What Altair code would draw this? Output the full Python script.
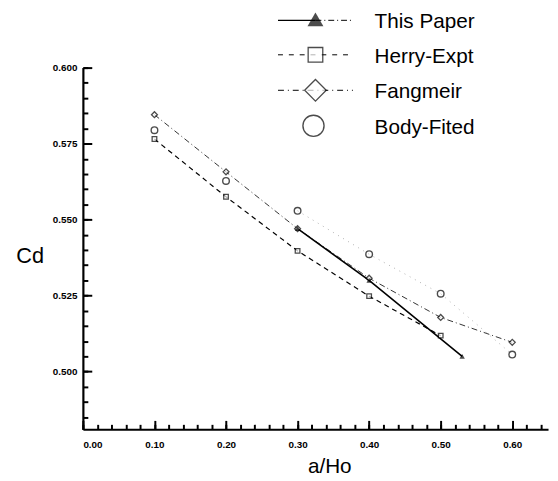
import altair as alt
import pandas as pd

# ---- data ----
series_names = ["This Paper", "Herry-Expt", "Fangmeir", "Body-Fited"]

this_x = [0.30, 0.40, 0.53]
this_y = [0.547, 0.530, 0.505]

herry_x = [0.10, 0.20, 0.30, 0.40, 0.50]
herry_y = [0.5765, 0.5575, 0.5397, 0.5248, 0.5118]

fang_x = [0.10, 0.20, 0.30, 0.40, 0.50, 0.60]
fang_y = [0.5845, 0.5657, 0.5470, 0.5307, 0.5178, 0.5096]

body_x = [0.10, 0.20, 0.30, 0.40, 0.50, 0.60]
body_y = [0.5794, 0.5627, 0.5529, 0.5386, 0.5256, 0.5056]

x_major = [0.0, 0.1, 0.2, 0.3, 0.4, 0.5, 0.6]
x_minor = [round(i * 0.02, 2) for i in range(33)]
y_major = [0.500, 0.525, 0.550, 0.575, 0.600]
y_minor = [round(0.485 + i * 0.005, 3) for i in range(24)]

W, H = 472, 367
FONT = "Liberation Sans"

xs = alt.Scale(domain=[0, 0.65], nice=False, zero=False)
ys = alt.Scale(domain=[0.481, 0.600], nice=False, zero=False)

df_this = pd.DataFrame({"x": this_x, "y": this_y})
df_herry = pd.DataFrame({"x": herry_x, "y": herry_y})
df_fang = pd.DataFrame({"x": fang_x, "y": fang_y})
df_body = pd.DataFrame({"x": body_x, "y": body_y})
df_body_line = df_body[df_body["x"] >= 0.3]

# axes: main (domain + labels + titles), plus inward minor / major tick axes
x_main = alt.Axis(values=x_major, format=".2f", ticks=False, domainColor="black", domainWidth=2.2,
                  labelFont=FONT, labelFontWeight="bold", labelFontSize=10, labelColor="black",
                  labelPadding=10, title="a/Ho", titleFont=FONT, titleFontSize=21,
                  titleFontWeight="normal", titleColor="black", titleX=250, titleY=44,
                  titleBaseline="alphabetic", grid=False)
y_main = alt.Axis(values=y_major, format=".3f", ticks=False, domainColor="black", domainWidth=2.2,
                  labelFont=FONT, labelFontWeight="bold", labelFontSize=10, labelColor="black",
                  labelPadding=6, title="Cd", titleFont=FONT, titleFontSize=22,
                  titleFontWeight="normal", titleColor="black", titleAngle=0, titleX=-54,
                  titleY=191, titleAlign="center", titleBaseline="middle", grid=False)
x_minor_ax = alt.Axis(orient="top", offset=-H, values=x_minor, labels=False, domain=False,
                      tickColor="black", tickSize=5, tickWidth=2, title=None, grid=False)
y_minor_ax = alt.Axis(orient="right", offset=-W, values=y_minor, labels=False, domain=False,
                      tickColor="black", tickSize=5, tickWidth=2, title=None, grid=False)
x_major_ax = alt.Axis(orient="top", offset=-H, values=x_major, labels=False, domain=False,
                      tickColor="black", tickSize=9, tickWidth=2, title=None, grid=False)
y_major_ax = alt.Axis(orient="right", offset=-W, values=y_major, labels=False, domain=False,
                      tickColor="black", tickSize=9, tickWidth=2, title=None, grid=False)


def enc(chart, xa=None, ya=None):
    return chart.encode(
        x=alt.X("x:Q", scale=xs, axis=xa),
        y=alt.Y("y:Q", scale=ys, axis=ya),
    )


herry_line = enc(alt.Chart(df_herry).mark_line(color="black", strokeWidth=1.2, strokeDash=[5, 4]),
                 x_main, y_main)
fang_line = enc(alt.Chart(df_fang).mark_line(color="#333333", strokeWidth=1, strokeDash=[6, 3, 1, 3]),
                x_minor_ax, y_minor_ax)
body_line = enc(alt.Chart(df_body_line).mark_line(color="#b0b0b0", strokeWidth=1, strokeDash=[1, 5]),
                x_major_ax, y_major_ax)
this_line = enc(alt.Chart(df_this).mark_line(color="black", strokeWidth=1.6))

herry_pts = enc(alt.Chart(df_herry).mark_point(shape="square", size=22, color="black",
                                               filled=False, strokeWidth=1.3, fill="white"))
fang_pts = enc(alt.Chart(df_fang).mark_point(shape="diamond", size=36, color="black",
                                             filled=False, strokeWidth=1.3, fill="white"))
body_pts = enc(alt.Chart(df_body).mark_point(shape="circle", size=45, color="black",
                                             filled=False, strokeWidth=1.4))
this_pts = enc(alt.Chart(df_this).mark_point(shape="triangle-up", size=30, color="black",
                                             filled=True))

# ---- manual legend ----
leg_rows = [-48, -13, 23, 59]
lx0, lx1, lmk, ltx = 198, 274, 236, 296
legend_layers = []
ldf = [pd.DataFrame({"label": [n]}) for n in series_names]

legend_layers.append(alt.Chart(ldf[0]).mark_rule(color="black", strokeWidth=1.4).encode(
    x=alt.value(lx0), x2=alt.value(lmk), y=alt.value(leg_rows[0])))
legend_layers.append(alt.Chart(ldf[0]).mark_rule(color="black", strokeWidth=1, strokeDash=[6, 3, 1, 3]).encode(
    x=alt.value(lmk), x2=alt.value(lx1), y=alt.value(leg_rows[0])))
legend_layers.append(alt.Chart(ldf[0]).mark_point(shape="triangle-up", size=260, color="black", filled=True).encode(
    x=alt.value(lmk), y=alt.value(leg_rows[0] - 1)))
legend_layers.append(alt.Chart(ldf[1]).mark_rule(color="black", strokeWidth=1, strokeDash=[5, 6]).encode(
    x=alt.value(lx0), x2=alt.value(lx1), y=alt.value(leg_rows[1])))
legend_layers.append(alt.Chart(ldf[1]).mark_point(shape="square", size=220, color="black", filled=False,
                                                  fill="white", strokeWidth=1.3).encode(
    x=alt.value(lmk), y=alt.value(leg_rows[1])))
legend_layers.append(alt.Chart(ldf[2]).mark_rule(color="black", strokeWidth=1, strokeDash=[6, 4, 1, 4]).encode(
    x=alt.value(lx0), x2=alt.value(lx1), y=alt.value(leg_rows[2])))
legend_layers.append(alt.Chart(ldf[2]).mark_point(shape="diamond", size=480, color="black", filled=False,
                                                  fill="white", strokeWidth=1.3).encode(
    x=alt.value(lmk), y=alt.value(leg_rows[2])))
legend_layers.append(alt.Chart(ldf[3]).mark_point(shape="circle", size=460, color="black", filled=False,
                                                  strokeWidth=1.4).encode(
    x=alt.value(lmk - 2), y=alt.value(leg_rows[3])))

for i in range(4):
    legend_layers.append(alt.Chart(ldf[i]).mark_text(align="left", baseline="alphabetic", font=FONT,
                                                     fontSize=21, color="black").encode(
        x=alt.value(ltx), y=alt.value(leg_rows[i] + 8), text="label:N"))

chart = alt.layer(
    herry_line, fang_line, body_line, this_line,
    herry_pts, fang_pts, body_pts, this_pts,
    *legend_layers
).resolve_axis(x="independent", y="independent").properties(
    width=W, height=H,
    padding={"left": 76, "top": 57, "right": 2, "bottom": 50},
    autosize=alt.AutoSizeParams(type="none"),
).configure_view(stroke=None)

chart.save("out.html", embed_options={"renderer": "svg", "actions": False})
